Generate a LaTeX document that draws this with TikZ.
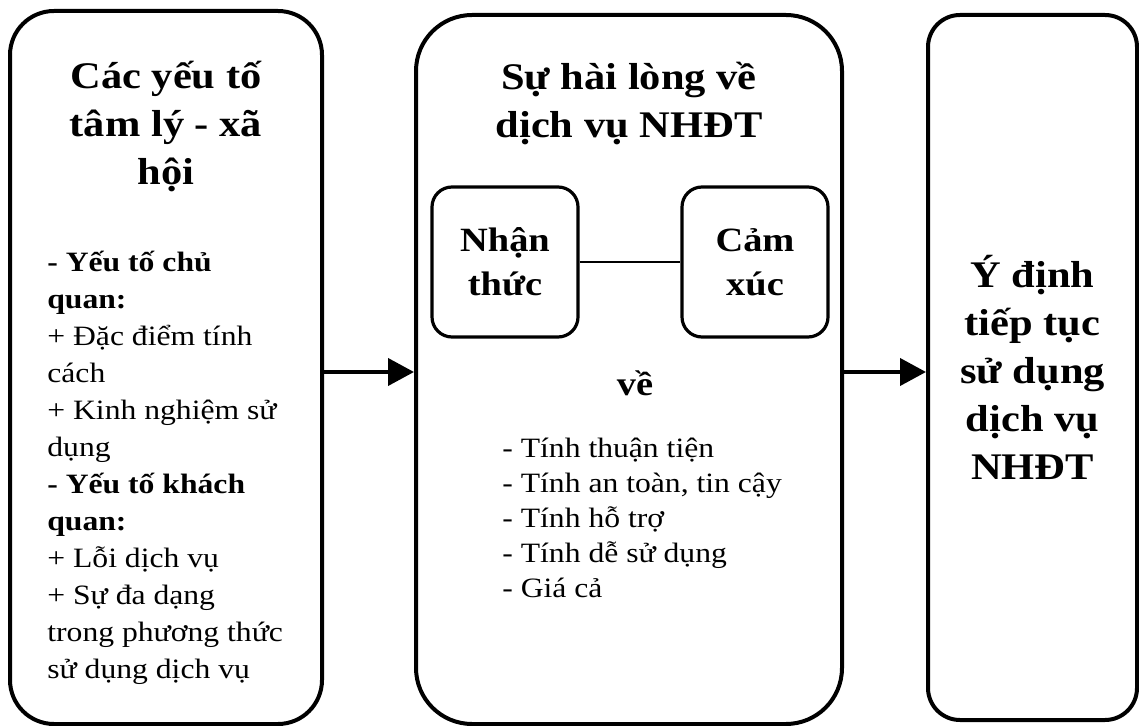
\documentclass[tikz,border=0pt]{standalone}
\usepackage{fontspec}
\setmainfont{Liberation Serif}[FakeStretch=1.13]
\usepackage{tikz}
\usetikzlibrary{arrows.meta}
\tikzstyle{bigbox} = [rectangle, draw=black, line width=2pt, inner sep=0pt]
\tikzstyle{smallbox} = [rectangle, rounded corners=10pt, draw=black, line width=1.6pt, minimum width=73pt, minimum height=75pt, inner sep=0pt, align=center, font=\bfseries\fontsize{17}{22}\selectfont]
\tikzstyle{heading} = [align=center, inner sep=0pt, font=\bfseries\fontsize{18.8}{24}\selectfont]
\tikzstyle{bodytext} = [align=left, inner sep=0pt, font=\fontsize{14}{18.5}\selectfont]
\tikzstyle{arrow} = [line width=2pt, -{Triangle[length=13pt,width=13.5pt]}]

\begin{document}
\begin{tikzpicture}[x=0.5pt, y=-0.5pt]
  \useasboundingbox (0,0) rectangle (1139,726);
  % left column
  \node (lhs) [bigbox, rounded corners=22pt, minimum width=156pt, minimum height=356.5pt] at (166,367.5) {};
  \node (lhstitle) [heading, anchor=north] at (166,61) {Các yếu tố\\tâm lý - xã\\hội};
  \node (lhsbody) [bodytext, anchor=north west] at (47,251) {\textbf{- Yếu tố chủ}\\\textbf{quan:}\\+ Đặc điểm tính\\cách\\+ Kinh nghiệm sử\\dụng\\\textbf{- Yếu tố khách}\\\textbf{quan:}\\+ Lỗi dịch vụ\\+ Sự đa dạng\\trong phương thức\\sử dụng dịch vụ};
  % middle column
  \node (sat) [bigbox, rounded corners=28pt, minimum width=213pt, minimum height=354.5pt] at (629,369.5) {};
  \node (sattitle) [heading, anchor=north] at (629,62) {Sự hài lòng về\\dịch vụ NHĐT};
  \node (cog) [smallbox] at (505,262) {Nhận\\thức};
  \node (emo) [smallbox] at (755,262) {Cảm\\xúc};
  \draw [line width=0.6pt] (cog) -- (emo);
  \node (about) [anchor=base, font=\bfseries\fontsize{17}{22}\selectfont] at (635,396) {về};
  \node (criteria) [bodytext, anchor=north west, font=\fontsize{14}{17.5}\selectfont] at (502,438) {- Tính thuận tiện\\- Tính an toàn, tin cậy\\- Tính hỗ trợ\\- Tính dễ sử dụng\\- Giá cả};
  % right column
  \node (rhs) [bigbox, heading, rounded corners=16pt, minimum width=104.5pt, minimum height=352.5pt] at (1032.5,367.5) {Ý định\\tiếp tục\\sử dụng\\dịch vụ\\NHĐT};
  \draw [arrow] ([yshift=-2.25pt]lhs.east) -- ([yshift=-1.25pt]sat.west);
  \draw [arrow] ([yshift=-1.25pt]sat.east) -- ([yshift=-2.25pt]rhs.west);
\end{tikzpicture}
\end{document}
